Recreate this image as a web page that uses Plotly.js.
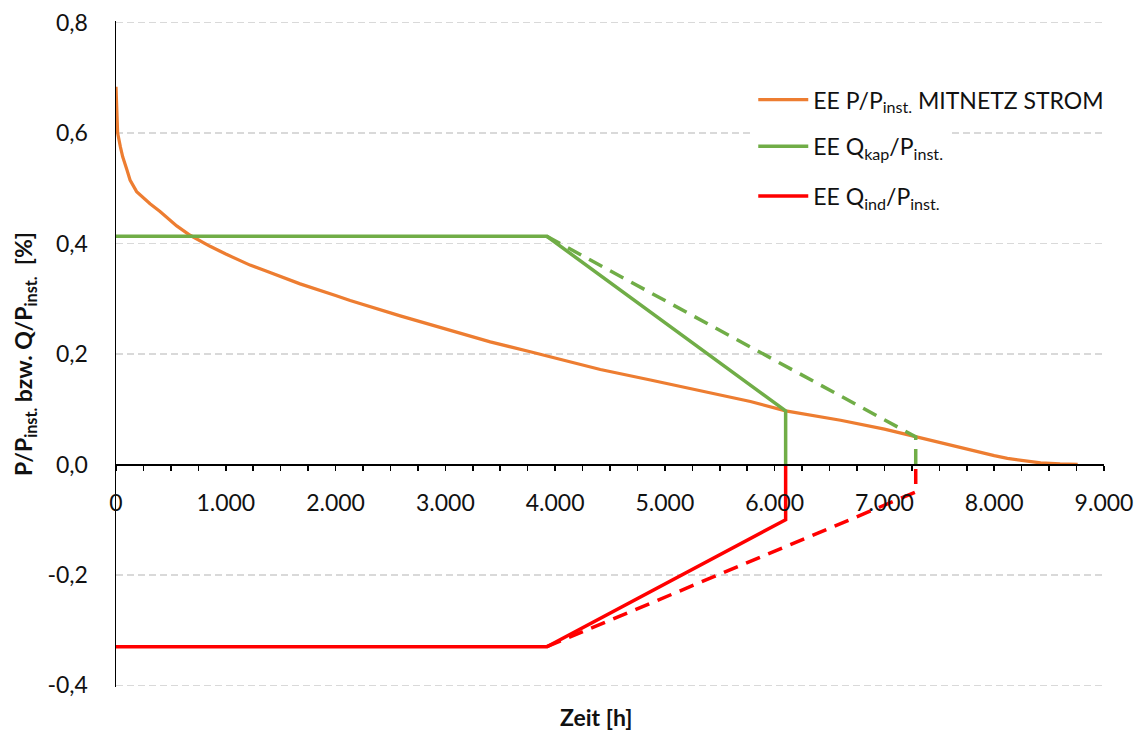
<!DOCTYPE html>
<html>
<head>
<meta charset="utf-8">
<script src="https://cdn.plot.ly/plotly-3.0.1.min.js"></script>
<style>html,body{margin:0;padding:0;background:#fff;}#chart{width:1142px;height:731px;}</style>
</head>
<body>
<div id="chart"></div>
<script>
// Orange: load duration curve P/P_inst (MITNETZ STROM)
const pHours = [0, 4, 8, 15, 40, 61, 100, 128, 188, 250, 310, 401, 553, 675, 857, 1000, 1130, 1221, 1343, 1677, 2000, 2133, 2589, 3045, 3409, 3774, 4000, 4412, 4868, 5324, 5779, 6100, 6600, 7000, 7285, 7694, 8000, 8120, 8423, 8600, 8760];
const pValues = [0.684, 0.65, 0.62, 0.60, 0.575, 0.557, 0.533, 0.515, 0.494, 0.482, 0.472, 0.458, 0.432, 0.415, 0.395, 0.381, 0.369, 0.361, 0.352, 0.327, 0.306, 0.297, 0.269, 0.243, 0.222, 0.204, 0.193, 0.172, 0.153, 0.134, 0.114, 0.097, 0.080, 0.064, 0.050, 0.030, 0.016, 0.011, 0.003, 0.001, 0];

// Green: Q_kap / P_inst
const qKapHours = [0, 3925, 6100, 6100];
const qKapValues = [0.413, 0.413, 0.097, 0];
const qKapDashHours = [3925, 7285, 7285];
const qKapDashValues = [0.413, 0.05, 0];

// Red: Q_ind / P_inst
const qIndHours = [0, 3925, 6100, 6100];
const qIndValues = [-0.33, -0.33, -0.1, 0];
const qIndDashHours = [3925, 7285, 7285];
const qIndDashValues = [-0.33, -0.05, 0];

// Axis ticks
const xTickVals = [0, 1000, 2000, 3000, 4000, 5000, 6000, 7000, 8000, 9000];
const xTickLabels = ['0', '1.000', '2.000', '3.000', '4.000', '5.000', '6.000', '7.000', '8.000', '9.000'];
const yTickVals = [-0.4, -0.2, 0, 0.2, 0.4, 0.6, 0.8];
const yTickLabels = ['-0,4', '-0,2', '0,0', '0,2', '0,4', '0,6', '0,8'];

const legendNames = [
  'EE P/P<sub>inst.</sub> MITNETZ STROM',
  'EE Q<sub>kap</sub>/P<sub>inst.</sub>',
  'EE Q<sub>ind</sub>/P<sub>inst.</sub>'
];

const ORANGE = '#ED7D31', GREEN = '#70AD47', RED = '#FF0000';
const FONT = 'Lato, "Open Sans", sans-serif';
const TXT = '#111';
const Y_RANGE = [-0.403, 0.803];

const traces = [
  {x: pHours, y: pValues, mode: 'lines', name: legendNames[0], legend: 'legend', line: {color: ORANGE, width: 3.2}},
  {x: qKapDashHours, y: qKapDashValues, mode: 'lines', showlegend: false, line: {color: GREEN, width: 3.5, dash: '15px,9px'}},
  {x: qIndDashHours, y: qIndDashValues, mode: 'lines', showlegend: false, line: {color: RED, width: 3.5, dash: '15px,9px'}},
  {x: qKapHours, y: qKapValues, mode: 'lines', name: legendNames[1], legend: 'legend2', line: {color: GREEN, width: 3.5}},
  {x: qIndHours, y: qIndValues, mode: 'lines', name: legendNames[2], legend: 'legend3', line: {color: RED, width: 3.5}}
];

function legendAt(yPaper) {
  return {
    x: 0.645, y: yPaper, xanchor: 'left', yanchor: 'middle',
    bgcolor: '#fff', borderwidth: 0,
    font: {family: FONT, size: 23, color: TXT},
    itemwidth: 50
  };
}

const layout = {
  width: 1142, height: 731,
  margin: {l: 116, r: 38, t: 21, b: 44},
  paper_bgcolor: '#fff', plot_bgcolor: '#fff',
  font: {family: FONT, size: 23, color: TXT},
  showlegend: true,
  legend: legendAt(0.882),
  legend2: legendAt(0.812),
  legend3: legendAt(0.737),
  xaxis: {
    range: [0, 9000],
    anchor: 'free', position: (0 - Y_RANGE[0]) / (Y_RANGE[1] - Y_RANGE[0]),
    showline: true, linecolor: '#000', linewidth: 1.5,
    showgrid: false, zeroline: false,
    ticks: 'outside', ticklen: 5, tickcolor: '#000', tickwidth: 1.5,
    tickvals: xTickVals, ticktext: xTickLabels,
    ticklabelstandoff: 12,
    minor: {ticks: 'outside', dtick: 250, tick0: 0, ticklen: 5, tickcolor: '#000', tickwidth: 1.5, showgrid: false},
    tickfont: {family: FONT, size: 23, color: TXT}
  },
  yaxis: {
    range: Y_RANGE,
    showline: true, linecolor: '#000', linewidth: 1.5,
    showgrid: true, gridcolor: '#d9d9d9', gridwidth: 1.5, griddash: '7px,4px',
    zeroline: false,
    ticks: '', tickvals: yTickVals, ticktext: yTickLabels,
    ticklabelstandoff: 22,
    tickfont: {family: FONT, size: 23, color: TXT},
    title: {text: '<b>P/P<sub>inst.</sub> bzw. Q/P<sub>inst.</sub>  [%]</b>', font: {family: FONT, size: 23, color: TXT}, standoff: 8}
  },
  annotations: [
    {text: '<b>Zeit [h]</b>', xref: 'paper', yref: 'paper', x: 0.486, y: 0, yshift: -30, xanchor: 'center', yanchor: 'middle', showarrow: false, font: {family: FONT, size: 23, color: TXT}}
  ]
};

Plotly.newPlot('chart', traces, layout, {displayModeBar: false, staticPlot: true});
</script>
</body>
</html>
